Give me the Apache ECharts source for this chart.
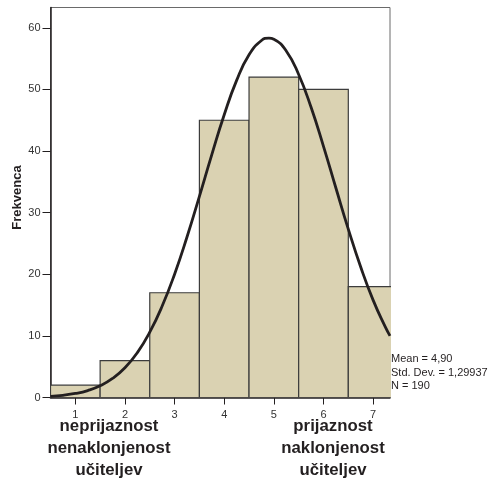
<!DOCTYPE html>
<html><head><meta charset="utf-8">
<script src="https://cdn.jsdelivr.net/npm/echarts@6/dist/echarts.min.js"></script>
<style>html,body{margin:0;padding:0;background:#fff}#c{width:488px;height:479px}</style>
</head><body><div id="c"></div>
<script>
// Histogram data
const categories = [1, 2, 3, 4, 5, 6, 7];
const frequencies = [2, 6, 17, 45, 52, 50, 18];
// Fitted normal curve points (x, frequency)
const curveX = [0.5, 0.75, 1.0, 1.25, 1.5, 1.75, 2.0, 2.25, 2.5, 2.75, 3.0, 3.25, 3.5, 3.75, 4.0, 4.25, 4.5, 4.75, 4.9, 5.0, 5.25, 5.5, 5.75, 6.0, 6.25, 6.5, 6.75, 7.0, 7.25, 7.34];
const curveY = [0.19, 0.36, 0.65, 1.13, 1.90, 3.09, 4.83, 7.29, 10.6, 14.84, 20.02, 26.05, 32.65, 39.43, 45.89, 51.47, 55.63, 57.94, 58.33, 58.16, 56.25, 52.43, 47.10, 40.76, 34.0, 27.33, 21.17, 15.8, 11.37, 10.0];
const yTicks = [0, 10, 20, 30, 40, 50, 60];
const statsLines = ["Mean = 4,90", "Std. Dev. = 1,29937", "N = 190"];
const leftLabel = ["neprijaznost", "nenaklonjenost", "učiteljev"];
const rightLabel = ["prijaznost", "naklonjenost", "učiteljev"];
const yTitle = "Frekvenca";

const chart = echarts.init(document.getElementById('c'));
const font = '"Liberation Sans", Arial, Helvetica, sans-serif';
const barData = categories.map((c, i) => [c, frequencies[i]]);
const curveData = curveX.map((x, i) => [x, curveY[i]]);

chart.setOption({
  animation: false,
  grid: { left: 50.5, top: 7.5, right: 98, bottom: 81.5, show: true, borderColor: '#6a6a6a', borderWidth: 1, backgroundColor: 'transparent' },
  xAxis: {
    type: 'value', min: 0.5, max: 7.34,
    axisLine: { show: true, onZero: false, lineStyle: { color: '#231f20', width: 1.5 } },
    axisTick: { show: true, length: 7, customValues: categories, lineStyle: { color: '#231f20' } },
    axisLabel: { customValues: categories, color: '#333', fontSize: 11, fontFamily: font, margin: 12 },
    splitLine: { show: false }
  },
  yAxis: {
    type: 'value', min: 0, max: 63.3, interval: 10,
    axisLine: { show: true, lineStyle: { color: '#231f20', width: 1.5 } },
    axisTick: { show: true, length: 8, customValues: yTicks, lineStyle: { color: '#231f20' } },
    axisLabel: { customValues: yTicks, color: '#333', fontSize: 11, fontFamily: font, margin: 10 },
    splitLine: { show: false }
  },
  series: [
    {
      type: 'custom', clip: true, data: barData,
      renderItem: function (params, api) {
        const x = api.value(0), v = api.value(1);
        const p0 = api.coord([x - 0.5, v]);
        const p1 = api.coord([x + 0.5, 0]);
        return {
          type: 'rect',
          shape: { x: p0[0], y: p0[1], width: p1[0] - p0[0], height: p1[1] - p0[1] },
          style: { fill: '#dad2b2', stroke: '#3c3c3c', lineWidth: 1.2 }
        };
      },
      z: 2
    },
    {
      type: 'line', data: curveData, smooth: true, showSymbol: false, clip: true,
      lineStyle: { color: '#231f20', width: 2.8, cap: 'butt' }, z: 3
    }
  ],
  graphic: [
    { type: 'text', x: 17.5, y: 197.5, rotation: Math.PI / 2,
      style: { text: yTitle, font: 'bold 13px ' + font, fill: '#231f20', align: 'center', verticalAlign: 'middle' } },
    { type: 'text', x: 391, y: 372.5,
      style: { text: statsLines.join('\n'), font: '11px ' + font, fill: '#231f20', lineHeight: 13.2, verticalAlign: 'middle' } },
    { type: 'text', x: 109, y: 415,
      style: { text: leftLabel.join('\n'), font: 'bold 16.8px ' + font, fill: '#231f20', align: 'center', lineHeight: 22 } },
    { type: 'text', x: 333, y: 415,
      style: { text: rightLabel.join('\n'), font: 'bold 16.8px ' + font, fill: '#231f20', align: 'center', lineHeight: 22 } }
  ]
});
</script></body></html>
